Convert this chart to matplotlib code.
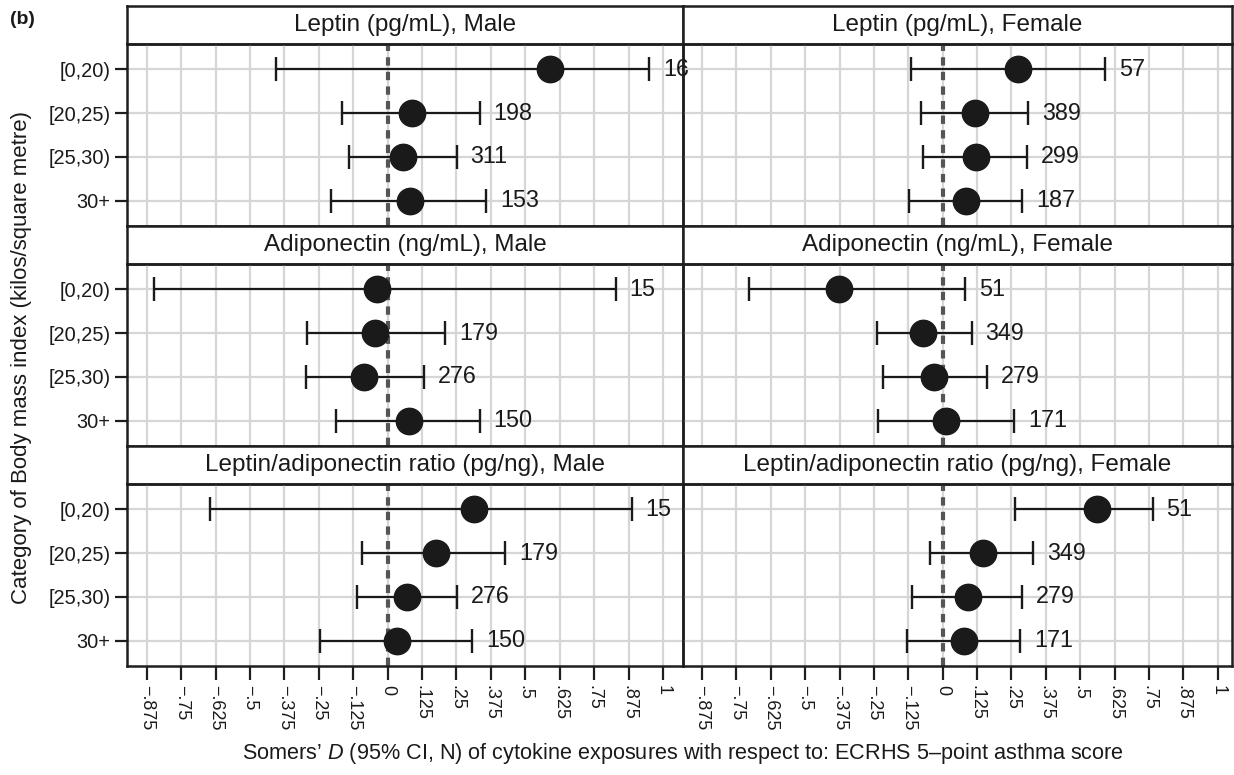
import matplotlib
matplotlib.use("Agg")
import matplotlib.pyplot as plt
import numpy as np

plt.rcParams['font.family'] = ['Liberation Sans', 'DejaVu Sans']
plt.rcParams['mathtext.fontset'] = 'custom'
plt.rcParams['mathtext.it'] = 'Liberation Sans:italic'
plt.rcParams['mathtext.rm'] = 'Liberation Sans'

categories = ["[0,20)", "[20,25)", "[25,30)", "30+"]
cytokines = ["Leptin (pg/mL)", "Adiponectin (ng/mL)", "Leptin/adiponectin ratio (pg/ng)"]
sexes = ["Male", "Female"]

# Somers' D estimates, lower and upper 95% CI, N  (per cytokine, per sex)
leptin_male_est = [0.59, 0.09, 0.055, 0.082]
leptin_male_lo = [-0.405, -0.166, -0.142, -0.205]
leptin_male_hi = [0.95, 0.334, 0.251, 0.358]
leptin_male_n = [16, 198, 311, 153]

leptin_female_est = [0.274, 0.119, 0.121, 0.085]
leptin_female_lo = [-0.115, -0.079, -0.073, -0.121]
leptin_female_hi = [0.591, 0.31, 0.307, 0.288]
leptin_female_n = [57, 389, 299, 187]

adipo_male_est = [-0.037, -0.046, -0.086, 0.077]
adipo_male_lo = [-0.85, -0.294, -0.295, -0.187]
adipo_male_hi = [0.828, 0.209, 0.131, 0.334]
adipo_male_n = [15, 179, 276, 150]

adipo_female_est = [-0.378, -0.072, -0.03, 0.013]
adipo_female_lo = [-0.705, -0.24, -0.218, -0.234]
adipo_female_hi = [0.081, 0.105, 0.163, 0.261]
adipo_female_n = [51, 349, 279, 171]

ratio_male_est = [0.312, 0.177, 0.071, 0.035]
ratio_male_lo = [-0.647, -0.095, -0.112, -0.245]
ratio_male_hi = [0.886, 0.427, 0.252, 0.308]
ratio_male_n = [15, 179, 276, 150]

ratio_female_est = [0.5625, 0.147, 0.092, 0.077]
ratio_female_lo = [0.264, -0.045, -0.111, -0.13]
ratio_female_hi = [0.763, 0.329, 0.288, 0.281]
ratio_female_n = [51, 349, 279, 171]

tick_values = [-0.875, -0.75, -0.625, -0.5, -0.375, -0.25, -0.125, 0,
               0.125, 0.25, 0.375, 0.5, 0.625, 0.75, 0.875, 1]
tick_labels = ["\u2212.875", "\u2212.75", "\u2212.625", "\u2212.5", "\u2212.375", "\u2212.25",
               "\u2212.125", "0", ".125", ".25", ".375", ".5", ".625", ".75", ".875", "1"]

panels = [
    [(leptin_male_est, leptin_male_lo, leptin_male_hi, leptin_male_n),
     (leptin_female_est, leptin_female_lo, leptin_female_hi, leptin_female_n)],
    [(adipo_male_est, adipo_male_lo, adipo_male_hi, adipo_male_n),
     (adipo_female_est, adipo_female_lo, adipo_female_hi, adipo_female_n)],
    [(ratio_male_est, ratio_male_lo, ratio_male_hi, ratio_male_n),
     (ratio_female_est, ratio_female_lo, ratio_female_hi, ratio_female_n)],
]

W, H = 1234, 775
fig = plt.figure(figsize=(W / 100, H / 100), dpi=100)
fig.patch.set_facecolor("white")

col_x = [(127, 683), (683, 1232)]
col_xlim = [(-0.947, 1.073), (-0.944, 1.052)]
frame_col = "#1e1e1e"
grid_col = "#d6d6d6"
txt_col = "#1a1a1a"

def rect(x0, x1, ytop, ybot):
    return [x0 / W, 1 - ybot / H, (x1 - x0) / W, (ybot - ytop) / H]

ypos = np.arange(1, len(categories) + 1)

for r in range(3):
    htop = 6 + r * 220
    hbot = htop + 38
    pbot = hbot + 182
    for c in range(2):
        x0, x1 = col_x[c]
        est, lo, hi, n = panels[r][c]
        # header strip
        hax = fig.add_axes(rect(x0, x1, htop, hbot))
        hax.set_xticks([]); hax.set_yticks([])
        for s in hax.spines.values():
            s.set_linewidth(1.8); s.set_color(frame_col)
        hax.text(0.5, 0.5, f"{cytokines[r]}, {sexes[c]}", ha="center", va="center",
                 fontsize=17.5, color=txt_col, transform=hax.transAxes)
        # plot area
        ax = fig.add_axes(rect(x0, x1, hbot, pbot))
        ax.set_facecolor("none")
        ax.set_xlim(*col_xlim[c])
        ax.set_ylim(4.58, 0.42)
        ax.set_xticks(tick_values)
        ax.set_yticks(ypos)
        for v in tick_values:
            ax.axvline(v, color=grid_col, lw=1.6, zorder=0)
        for y in ypos:
            ax.axhline(y, color=grid_col, lw=1.6, zorder=0)
        ax.axvline(0, color="#555555", lw=3, ls=(0, (2.0, 1.5)), zorder=1)
        ax.errorbar(est, ypos, xerr=[np.array(est) - np.array(lo), np.array(hi) - np.array(est)],
                    fmt="o", color=txt_col, ecolor=txt_col, elinewidth=1.6,
                    capsize=8.5, capthick=1.7, markersize=19, zorder=3)
        for xi, yi, ni in zip(hi, ypos, n):
            ax.annotate(str(ni), (xi, yi), xytext=(10, 0), textcoords="offset points",
                        ha="left", va="center", fontsize=16.8, color=txt_col,
                        annotation_clip=False, zorder=4)
        for s in ax.spines.values():
            s.set_linewidth(1.8); s.set_color(frame_col)
        if c == 0:
            ax.set_yticklabels(categories, fontsize=14.4, color=txt_col)
            ax.tick_params(axis="y", length=9, width=1.6, color=frame_col, pad=3)
        else:
            ax.tick_params(axis="y", length=0, labelleft=False)
        if r == 2:
            ax.set_xticklabels(tick_labels, rotation=-90, fontsize=13, color=txt_col)
            ax.tick_params(axis="x", length=10, width=1.6, color=frame_col, pad=4)
        else:
            ax.tick_params(axis="x", length=0, labelbottom=False)

fig.text(22 / W, 1 - 357 / H, "Category of Body mass index (kilos/square metre)",
         rotation=90, ha="center", va="center", fontsize=16, color=txt_col)
fig.text(683 / W, 1 - 753 / H,
         "Somers\u2019 $\\it{D}$ (95% CI, N) of cytokine exposures with respect to: ECRHS 5\u2013point asthma score",
         ha="center", va="center", fontsize=15.6, color=txt_col)
fig.text(10 / W, 1 - 20 / H, "(b)", ha="left", va="center", fontsize=14,
         fontweight="bold", color=txt_col)

fig.savefig("out.png", dpi=100, facecolor="white")
